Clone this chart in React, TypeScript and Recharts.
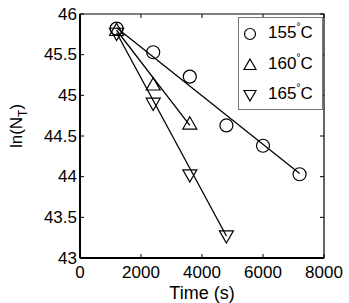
import React from 'react';
import { ComposedChart, Line, Scatter, XAxis, YAxis, ReferenceArea, Label } from 'recharts';

// measured points
const pts155 = [
  { x: 1200, y: 45.82 },
  { x: 2400, y: 45.53 },
  { x: 3600, y: 45.23 },
  { x: 4800, y: 44.63 },
  { x: 6000, y: 44.38 },
  { x: 7200, y: 44.03 },
];
const pts160 = [
  { x: 1200, y: 45.8 },
  { x: 2400, y: 45.13 },
  { x: 3600, y: 44.65 },
];
const pts165 = [
  { x: 1200, y: 45.76 },
  { x: 2400, y: 44.9 },
  { x: 3600, y: 44.02 },
  { x: 4800, y: 43.27 },
];

// fitted lines (end points)
const fit155 = [
  { x: 1200, y: 45.83 },
  { x: 7200, y: 44.04 },
];
const fit160 = [
  { x: 1200, y: 45.8 },
  { x: 3600, y: 44.63 },
];
const fit165 = [
  { x: 1200, y: 45.77 },
  { x: 4800, y: 43.27 },
];

const X_TICKS = [0, 2000, 4000, 6000, 8000];
const Y_TICKS = [43, 43.5, 44, 44.5, 45, 45.5, 46];
const LEGEND_LABELS = ['155', '160', '165'];

const FONT = '"Liberation Sans", Arial, Helvetica, sans-serif';
const W = 349;
const H = 303;
const LEFT = 80;
const RIGHT = 324;
const TOP = 14;
const BOTTOM = 258;
const TICK = 4;

const Circle = (r: number) => (props: any) => (
  <circle cx={props.cx} cy={props.cy} r={r} fill="none" stroke="#000" strokeWidth={1.2} />
);
const TriUp = (r: number) => (props: any) => {
  const { cx, cy } = props;
  const d = `M${cx},${cy - r} L${cx + r},${cy + r * 0.75} L${cx - r},${cy + r * 0.75} Z`;
  return <path d={d} fill="none" stroke="#000" strokeWidth={1.2} />;
};
const TriDown = (r: number) => (props: any) => {
  const { cx, cy } = props;
  const d = `M${cx},${cy + r} L${cx + r},${cy - r * 0.75} L${cx - r},${cy - r * 0.75} Z`;
  return <path d={d} fill="none" stroke="#000" strokeWidth={1.2} />;
};

const YTick = (props: any) => {
  const y = props.y;
  return (
    <g>
      <line x1={LEFT} x2={LEFT + TICK} y1={y} y2={y} stroke="#000" />
      <line x1={RIGHT - TICK} x2={RIGHT} y1={y} y2={y} stroke="#000" />
      <text x={LEFT - 3} y={y} textAnchor="end" dominantBaseline="central" fontSize={17} fontFamily={FONT} fill="#000">
        {props.payload.value}
      </text>
    </g>
  );
};

const XTick = (props: any) => {
  const x = props.x;
  return (
    <g>
      <line x1={x} x2={x} y1={BOTTOM} y2={BOTTOM - TICK} stroke="#000" />
      <line x1={x} x2={x} y1={TOP} y2={TOP + TICK} stroke="#000" />
      <text x={x} y={BOTTOM + 14} textAnchor="middle" dominantBaseline="central" fontSize={17} fontFamily={FONT} fill="#000">
        {props.payload.value}
      </text>
    </g>
  );
};

const YLabel = () => (
  <text
    x={0}
    y={0}
    transform="translate(22,126) rotate(-90)"
    textAnchor="middle"
    fontSize={17}
    fontFamily={FONT}
    fill="#000"
  >
    ln(N<tspan fontSize={12} dy={5}>T</tspan><tspan dy={-5}>)</tspan>
  </text>
);

const XLabel = () => (
  <text x={(LEFT + RIGHT) / 2} y={299} textAnchor="middle" fontSize={18} fontFamily={FONT} fill="#000">
    Time (s)
  </text>
);

const legendMarkers = [Circle(5.5), TriUp(6), TriDown(6)];

export default function App() {
  return (
    <div style={{ position: 'absolute', left: 0, top: 0, width: W, height: H, background: '#fff' }}>
      <style>{'body{margin:0}'}</style>
      <ComposedChart width={W} height={H} margin={{ top: TOP, right: W - RIGHT, bottom: 0, left: 0 }}>
        <XAxis
          type="number"
          dataKey="x"
          domain={[0, 8000]}
          ticks={X_TICKS}
          height={H - BOTTOM}
          tick={<XTick />}
          tickLine={false}
          axisLine={{ stroke: '#000', strokeWidth: 2 }}
          allowDataOverflow
        >
          <Label content={<XLabel />} />
        </XAxis>
        <YAxis
          type="number"
          dataKey="y"
          domain={[43, 46]}
          ticks={Y_TICKS}
          width={LEFT}
          tick={<YTick />}
          tickLine={false}
          axisLine={{ stroke: '#000', strokeWidth: 2 }}
          allowDataOverflow
        >
          <Label content={<YLabel />} />
        </YAxis>
        <ReferenceArea x1={0} x2={8000} y1={43} y2={46} fill="none" stroke="#000" strokeWidth={1.2} />
        <Line data={fit155} dataKey="y" stroke="#000" strokeWidth={1.3} dot={false} isAnimationActive={false} />
        <Line data={fit160} dataKey="y" stroke="#000" strokeWidth={1.3} dot={false} isAnimationActive={false} />
        <Line data={fit165} dataKey="y" stroke="#000" strokeWidth={1.3} dot={false} isAnimationActive={false} />
        <Scatter data={pts155} dataKey="y" shape={Circle(6.5)} isAnimationActive={false} />
        <Scatter data={pts160} dataKey="y" shape={TriUp(7)} isAnimationActive={false} />
        <Scatter data={pts165} dataKey="y" shape={TriDown(7)} isAnimationActive={false} />
      </ComposedChart>
      <div
        style={{
          position: 'absolute',
          left: 238,
          top: 17,
          width: 83,
          height: 91,
          border: '1px solid #777',
          background: '#fff',
          fontFamily: FONT,
          fontSize: 17,
          color: '#000',
        }}
      >
        {LEGEND_LABELS.map((lab, i) => {
          const M = legendMarkers[i];
          return (
            <div key={lab} style={{ position: 'absolute', left: 0, top: 6 + i * 30.5, height: 20, display: 'flex', alignItems: 'center' }}>
              <svg width={28} height={20} style={{ display: 'block' }}>
                <M cx={11} cy={10} />
              </svg>
              <span style={{ marginLeft: 1, lineHeight: '20px', whiteSpace: 'nowrap' }}>
                {lab}
                <span style={{ fontSize: 10, position: 'relative', top: -8 }}>°</span>C
              </span>
            </div>
          );
        })}
      </div>
    </div>
  );
}
